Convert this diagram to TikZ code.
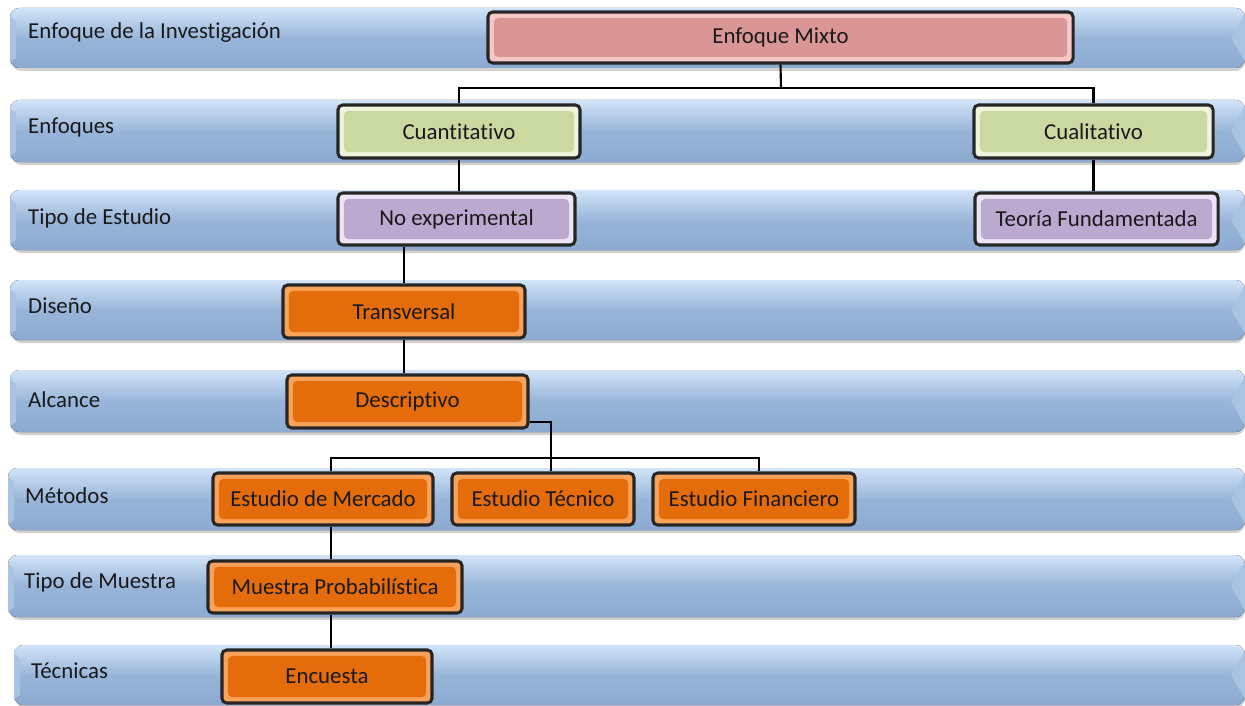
\documentclass[tikz,border=0pt]{standalone}
\usepackage{fontspec}
\setmainfont{Carlito}[Ligatures=NoCommon]
\definecolor{bandtop}{HTML}{D2E4F8}
\definecolor{bandmid}{HTML}{98B5D9}
\definecolor{bandbot}{HTML}{8CAAD0}
\definecolor{bandtip}{HTML}{A9C3E2}
\definecolor{mixtoedge}{HTML}{F6C9C8}
\definecolor{mixtofill}{HTML}{D99694}
\definecolor{enfedge}{HTML}{EEF5DC}
\definecolor{enffill}{HTML}{C9D99F}
\definecolor{tipoedge}{HTML}{EDE5F5}
\definecolor{tipofill}{HTML}{BBA9D0}
\definecolor{naredge}{HTML}{F9A35A}
\definecolor{narfill}{HTML}{E46C0A}

\begin{document}
\begin{tikzpicture}[x=0.03cm,y=-0.03cm,
  font=\fontsize{19.5}{22}\selectfont,
  band/.style={rounded corners=8pt, top color=bandtop, bottom color=bandbot, middle color=bandmid},
  bandlabel/.style={anchor=west, inner sep=0pt, text=black!90},
  box/.style={draw=black!85, line width=2.6pt, rounded corners=4pt, inner sep=0pt, text=black!90},
  bevel/.style 2 args={box, fill=#1, path picture={
    \fill[#2] ([shift={(5pt,-5pt)}]path picture bounding box.north west)
      rectangle ([shift={(-5pt,5pt)}]path picture bounding box.south east);}},
  mixtobox/.style={bevel={mixtoedge}{mixtofill}},
  enfbox/.style={bevel={enfedge}{enffill}},
  tipobox/.style={bevel={tipoedge}{tipofill}},
  narbox/.style={bevel={naredge}{narfill}},
  link/.style={draw=black, line width=1.8pt},
]
\useasboundingbox (0,0) rectangle (1245,705);

\foreach \ytop/\ybot/\xl in {8/68/10, 100/162/10, 190/250/10, 280/340/10,
    370/432/10, 468/530/8, 555/617/8, 645/705/14}{
  \fill[black, opacity=0.18, rounded corners=8pt] (\xl+2,\ytop+4) rectangle (1245,\ybot+3);
  \fill[band] (\xl,\ytop) rectangle (1245,\ybot);
  \fill[bandtip] (1245,\ytop+6) -- (1231,{(\ytop+\ybot)/2}) -- (1245,\ybot-6) -- cycle;
  \fill[bandtip] (\xl,\ytop+8) -- (\xl+6,\ytop+14) -- (\xl+6,\ybot-10) -- (\xl,\ybot-6) -- cycle;
}

\node[bandlabel] (lenfinv) at (28,33) {Enfoque de la Investigación};
\node[bandlabel] (lenf) at (28,128) {Enfoques};
\node[bandlabel] (ltipo) at (28,218) {Tipo de Estudio};
\node[bandlabel] (ldis) at (28,306) {Diseño};
\node[bandlabel] (lalc) at (28,400) {Alcance};
\node[bandlabel] (lmet) at (25,496) {Métodos};
\node[bandlabel] (lmue) at (24,582) {Tipo de Muestra};
\node[bandlabel] (ltec) at (31,671) {Técnicas};

\node[mixtobox, minimum width=17.55cm, minimum height=1.53cm] (mixto) at (780.5,37.5) {Enfoque Mixto};
\node[enfbox, minimum width=7.26cm, minimum height=1.59cm] (cuanti) at (459,131.5) {Cuantitativo};
\node[enfbox, minimum width=7.17cm, minimum height=1.59cm] (cuali) at (1093.5,131.5) {Cualitativo};
\node[tipobox, minimum width=7.11cm, minimum height=1.56cm] (noexp) at (456.5,219) {No experimental};
\node[tipobox, minimum width=7.29cm, minimum height=1.56cm] (teoria) at (1096.5,219) {Teoría Fundamentada};
\node[narbox, minimum width=7.26cm, minimum height=1.59cm] (trans) at (404,311.5) {Transversal};
\node[narbox, minimum width=7.23cm, minimum height=1.59cm] (desc) at (407.5,401.5) {Descriptivo};
\node[narbox, minimum width=6.6cm, minimum height=1.56cm] (merc) at (323,499) {Estudio de Mercado};
\node[narbox, minimum width=5.46cm, minimum height=1.56cm] (tecn) at (543,499) {Estudio Técnico};
\node[narbox, minimum width=6.06cm, minimum height=1.56cm] (fin) at (754,499) {Estudio Financiero};
\node[narbox, minimum width=7.62cm, minimum height=1.56cm] (muestra) at (335,587) {Muestra Probabilística};
\node[narbox, minimum width=6.3cm, minimum height=1.59cm] (encuesta) at (327,676.5) {Encuesta};

\coordinate (fork) at (781,88);
\coordinate (split) at (551,458);

\draw[link] (mixto.south) -- (fork);
\draw[link] (cuanti.north) |- (fork) -| (cuali.north);
\draw[link] (cuanti.south) -- (cuanti.south |- noexp.north);
\draw[link] (cuali.south) -- (cuali.south |- teoria.north);
\draw[link] (trans.north) -- (trans.north |- noexp.south);
\draw[link] (trans.south) -- (trans.south |- desc.north);
\draw[link] ([yshift=-0.62cm]desc.east) -| (split);
\draw[link] (split) -- (tecn.north -| split);
\draw[link] ([xshift=0.24cm]merc.north) |- (split) -| ([xshift=0.15cm]fin.north);
\draw[link] ([xshift=0.24cm]merc.south) -- ([xshift=0.24cm]merc.south |- muestra.north);
\draw[link] ([xshift=0.24cm]merc.south |- muestra.south) -- ([xshift=0.24cm]merc.south |- encuesta.north);
\end{tikzpicture}
\end{document}
